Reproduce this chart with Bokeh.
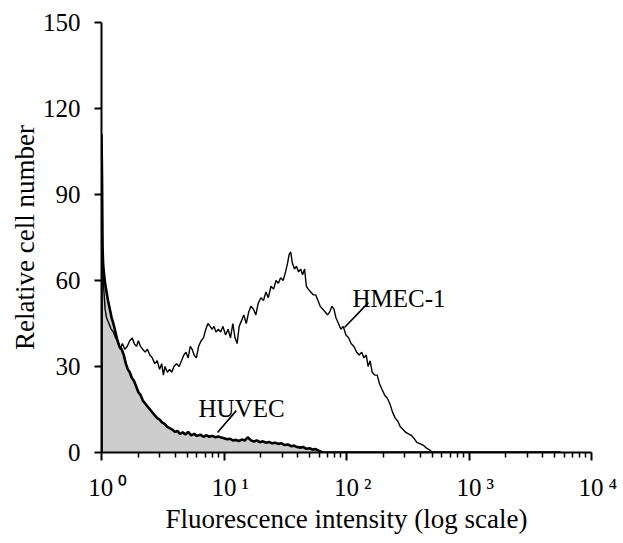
from bokeh.plotting import figure
from bokeh.models import Range1d, FixedTicker, Label
from bokeh.embed import file_html
from bokeh.resources import INLINE

# ---------------- data ----------------
hmec_x = [1.00, 1.00, 1.01, 1.02, 1.04, 1.07, 1.10, 1.15, 1.20, 1.25, 1.30, 1.36, 1.42, 1.48,
          1.55, 1.62, 1.70, 1.78, 1.85, 1.93, 2.00, 2.08, 2.17, 2.27, 2.37, 2.48, 2.60,
          2.72, 2.85, 2.98, 3.10, 3.20, 3.30, 3.45, 3.60, 3.75, 3.90, 4.10, 4.30, 4.50,
          4.70, 4.90, 5.10, 5.30, 5.50, 5.70, 5.95, 6.20, 6.50, 6.80, 7.10, 7.40, 7.70,
          8.00, 8.30, 8.60, 9.00, 9.40, 9.80, 10.3, 10.8, 11.3, 11.8, 12.3, 12.8, 13.3,
          13.9, 14.5, 15.2, 15.9, 16.6, 17.4, 18.2, 19.0, 20.0, 21.0, 22.0, 23.0, 24.2,
          25.4, 26.6, 27.8, 29.0, 30.4, 31.8, 33.0, 34.0, 35.0, 36.2, 37.6, 39.0, 40.6,
          42.2, 43.8, 45.5, 47.0, 48.8, 51.0, 53.5, 56.0, 58.5, 61.0, 64.0, 67.0, 70.0,
          73.0, 76.0, 79.0, 82.0, 86.0, 90.0, 94.0, 99.0, 104, 109, 115, 121, 127, 133,
          139, 145, 150, 156, 162, 170, 178, 186, 195, 205, 215, 226, 238, 250, 262, 275,
          290, 305, 320, 338, 355, 375, 400, 425, 450, 480, 510, 5600]
hmec_y = [0, 98, 85, 70, 58, 50, 47, 45, 43, 42, 40, 39, 36, 38,
          36, 37, 39, 40, 38, 37, 39, 37, 36, 35, 36, 34, 33,
          31, 32, 29, 31, 27, 30, 28, 29, 28, 30, 31, 30, 32,
          34, 35, 33, 37, 36, 34, 33, 37, 39, 40, 43, 45, 44,
          43, 44, 42, 43, 42, 44, 41, 43, 40, 45, 40, 38, 44,
          46, 48, 45, 49, 51, 50, 48, 52, 54, 53, 56, 54, 58,
          57, 60, 59, 61, 60, 63, 66, 69, 70, 66, 64, 65, 63,
          64, 62, 64, 58, 57, 56, 55, 55, 53, 51, 50, 49, 48,
          49, 51, 50, 47, 45, 43, 44, 41, 40, 38, 37, 35, 34, 35,
          33, 34, 30, 32, 28, 27, 27, 24, 22, 20, 19, 17, 14, 12, 11, 9,
          8, 7, 6.5, 6, 5, 3.5, 3, 2.5, 1.5, 0.8, 0, 0]

huvec_x = [1.00, 1.00, 1.01, 1.02, 1.03, 1.05, 1.07, 1.10, 1.13, 1.17, 1.21, 1.25, 1.30, 1.35,
           1.40, 1.46, 1.52, 1.58, 1.64, 1.70, 1.77, 1.84, 1.92, 2.00, 2.09, 2.18, 2.28,
           2.38, 2.49, 2.60, 2.72, 2.85, 2.98, 3.12, 3.27, 3.43, 3.60, 3.78, 3.97, 4.17,
           4.38, 4.60, 4.85, 5.10, 5.40, 5.70, 6.00, 6.40, 6.80, 7.20, 7.60, 8.00, 8.50,
           9.00, 9.50, 10.0, 10.6, 11.2, 11.8, 12.5, 13.2, 14.0, 14.8, 15.6, 16.5, 17.5,
           18.5, 19.6, 20.8, 22.0, 23.3, 24.7, 26.2, 27.8, 29.5, 31.3, 33.2, 35.2, 37.3,
           39.5, 42.0, 44.5, 47.0, 50.0, 53.0, 56.0, 60.0, 64.0, 5600]
huvec_y = [0, 111, 96, 72, 66, 62, 59, 56, 53, 50, 47, 45, 42, 39,
           37, 36, 34, 31, 29, 28, 26, 25, 23, 21, 20, 18, 17,
           16, 15, 14, 13, 12, 11.5, 10.5, 10, 9, 8.5, 8, 7.2, 7.5,
           6.5, 7, 6.3, 7.2, 6, 6.5, 5.8, 6.2, 5.5, 6, 5.5, 5.8, 5.3,
           5.6, 5.2, 5, 4.6, 4.8, 4.2, 4.4, 4, 4.5, 4.2, 5.3, 4.3, 3.8,
           4.2, 3.6, 3.9, 3.4, 3.7, 3.2, 3.4, 3, 3.2, 2.6, 2.8, 2.2, 2.4,
           1.9, 1.7, 1.9, 1.3, 1.5, 1.0, 1.2, 0.5, 0, 0]

y_ticks = [0, 30, 60, 90, 120, 150]
x_ticks = [1, 10, 100, 1000, 10000]
x_tick_base = "10"
x_tick_exp = ["\u2070", "\u00b9", "\u00b2", "\u00b3", "\u2074"]   # superscript 0..4
minor_mult = [2, 3, 4, 5, 6, 7, 8, 9]

series_names = ["HMEC-1", "HUVEC"]
name_pos_x = [112, 6.2]
name_pos_y = [53.7, 15.3]
leader_x = [[151, 96.3], [12.6, 8.85]]
leader_y = [[52.3, 43.6], [14.6, 7.0]]

x_title = "Fluorescence intensity (log scale)"
y_title = "Relative cell number"

FONT = "Liberation Serif"

p = figure(width=623, height=543, x_axis_type="log",
           x_range=Range1d(1, 10000), y_range=Range1d(0, 150),
           output_backend="svg", toolbar_location=None,
           min_border_left=101, min_border_right=32,
           min_border_top=22, min_border_bottom=91)
p.outline_line_color = None
p.xgrid.visible = False
p.ygrid.visible = False
p.background_fill_color = "white"
p.border_fill_color = "white"

# fill for HUVEC
p.varea(x=huvec_x, y1=[0] * len(huvec_x), y2=huvec_y, fill_color="#cdcdcd")
p.line(hmec_x, hmec_y, line_color="black", line_width=1.4)
p.line(huvec_x, huvec_y, line_color="black", line_width=2.6)

# series labels with leader lines
for name, lx, ly, sx, sy in zip(series_names, name_pos_x, name_pos_y, leader_x, leader_y):
    p.line(sx, sy, line_color="black", line_width=1.6)
    p.add_layout(Label(x=lx, y=ly, text=name, text_font=FONT, text_font_size="25px",
                       text_color="black", text_align="left", text_baseline="alphabetic"))

# axes
minor = [m * d for d in x_ticks[:-1] for m in minor_mult]
xa = p.xaxis[0]
xa.ticker = FixedTicker(ticks=x_ticks, minor_ticks=minor)
# "10" centred on the tick (en-space pad on the left balances the exponent on the right)
xa.major_label_overrides = {t: "\u2002" + x_tick_base + "\u2009" + e
                            for t, e in zip(x_ticks, x_tick_exp)}
xa.major_tick_in = 0
xa.major_tick_out = 8
xa.minor_tick_in = 0
xa.minor_tick_out = 5
xa.axis_line_width = 2
xa.major_tick_line_width = 2
xa.minor_tick_line_width = 1.5
xa.major_label_standoff = 13
xa.axis_label = x_title
xa.axis_label_standoff = 0

ya = p.yaxis[0]
ya.ticker = FixedTicker(ticks=y_ticks)
ya.major_tick_in = 0
ya.major_tick_out = 7
ya.minor_tick_out = 0
ya.minor_tick_in = 0
ya.axis_line_width = 2
ya.major_tick_line_width = 2
ya.major_label_standoff = 14
ya.axis_label = y_title
ya.axis_label_standoff = 0

for ax in (xa, ya):
    ax.axis_line_color = "black"
    ax.major_tick_line_color = "black"
    ax.minor_tick_line_color = "black"
    ax.major_label_text_font = FONT
    ax.major_label_text_font_size = "25px"
    ax.major_label_text_color = "black"
    ax.axis_label_text_font = FONT
    ax.axis_label_text_font_size = "27px"
    ax.axis_label_text_font_style = "normal"
    ax.axis_label_text_color = "black"

open("out.html", "w").write(file_html(p, INLINE))
